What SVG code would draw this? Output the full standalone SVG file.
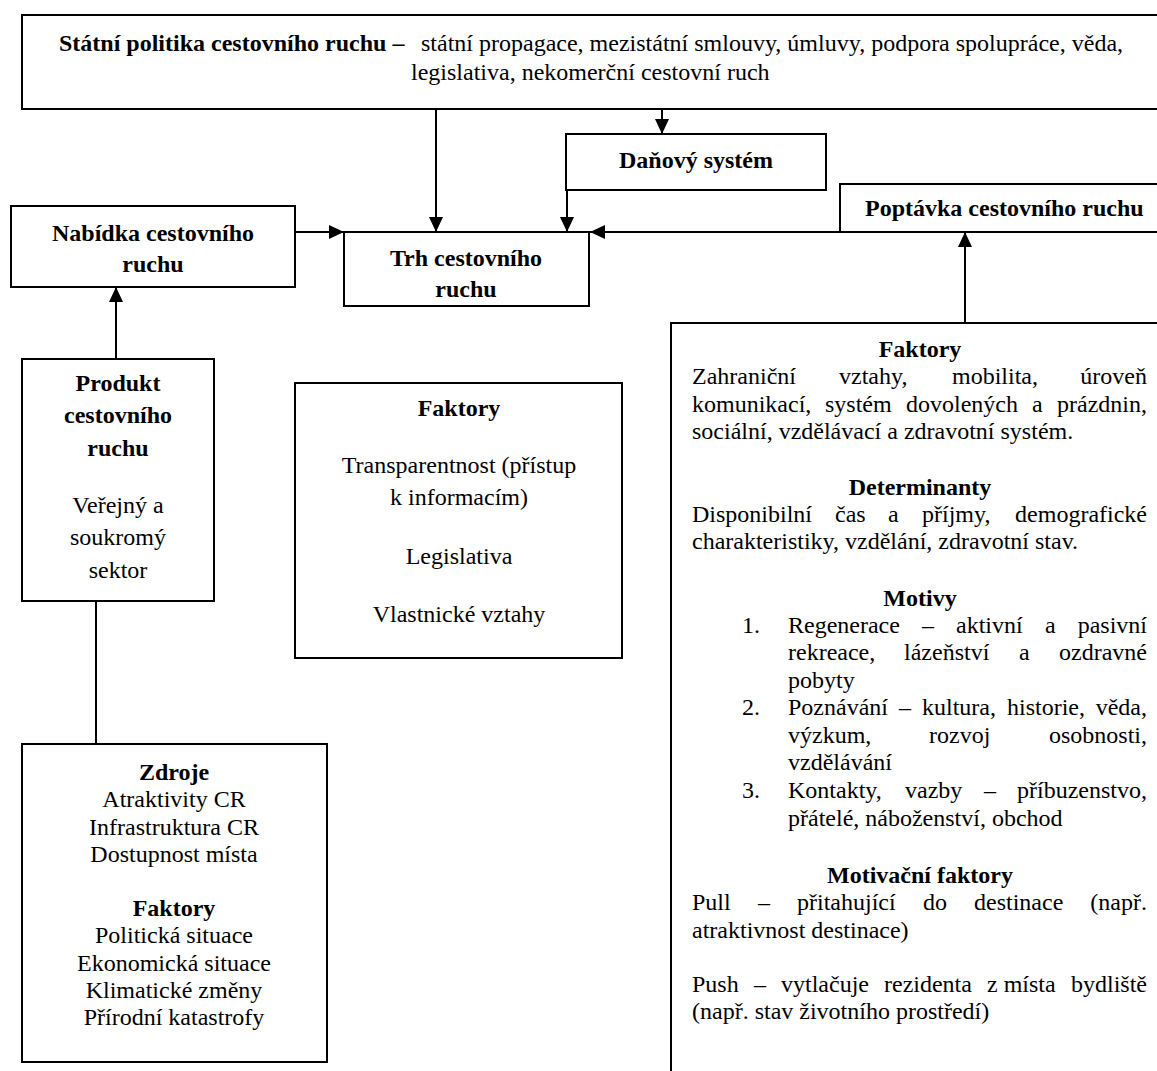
<svg xmlns="http://www.w3.org/2000/svg" width="1157" height="1071" viewBox="0 0 1157 1071">
<defs>
<marker id="ah" markerUnits="userSpaceOnUse" markerWidth="16" markerHeight="16" refX="15" refY="7" orient="auto">
<path d="M0,0 L15,7 L0,14 z" fill="#000"/>
</marker>
<style>
.box{fill:#fff;stroke:#000;stroke-width:2}
.t{font-family:"Liberation Serif","Times New Roman",serif;font-size:24px;fill:#000}
.b{font-weight:bold}
.c{text-anchor:middle}
.e{text-anchor:end}
.ln{stroke:#000;stroke-width:2;fill:none}
.ar{stroke:#000;stroke-width:2;fill:none;marker-end:url(#ah)}
</style>
</defs>
<rect width="1157" height="1071" fill="#fff"/>

<g id="statni-politika">
<rect class="box" x="22" y="15" width="1150" height="94"/>
<text class="t" x="59" y="51"><tspan class="b">Státní politika cestovního ruchu –</tspan><tspan x="421">státní propagace, mezistátní smlouvy, úmluvy, podpora spolupráce, věda,</tspan></text>
<text class="t" x="411" y="80">legislativa, nekomerční cestovní ruch</text>
</g>

<g id="danovy-system">
<rect class="box" x="566" y="134" width="260" height="56"/>
<text class="t b c" x="696" y="168">Daňový systém</text>
</g>

<g id="poptavka">
<rect class="box" x="840" y="184" width="330" height="48"/>
<text class="t b" x="865" y="216">Poptávka cestovního ruchu</text>
</g>

<g id="nabidka">
<rect class="box" x="11" y="206" width="284" height="81"/>
<text class="t b c" x="153" y="241">Nabídka cestovního</text>
<text class="t b c" x="153" y="272">ruchu</text>
</g>

<g id="trh">
<rect class="box" x="344" y="232" width="245" height="74"/>
<text class="t b c" x="466" y="266">Trh cestovního</text>
<text class="t b c" x="466" y="297">ruchu</text>
</g>

<g id="produkt">
<rect class="box" x="22" y="359" width="192" height="242"/>
<text class="t b c" x="118" y="391">Produkt</text>
<text class="t b c" x="118" y="423">cestovního</text>
<text class="t b c" x="118" y="456">ruchu</text>
<text class="t c" x="118" y="513">Veřejný a</text>
<text class="t c" x="118" y="545">soukromý</text>
<text class="t c" x="118" y="578">sektor</text>
</g>

<g id="faktory-stred">
<rect class="box" x="295" y="383" width="327" height="275"/>
<text class="t b c" x="459" y="416">Faktory</text>
<text class="t c" x="459" y="473">Transparentnost (přístup</text>
<text class="t c" x="459" y="505">k informacím)</text>
<text class="t c" x="459" y="564">Legislativa</text>
<text class="t c" x="459" y="622">Vlastnické vztahy</text>
</g>

<g id="zdroje">
<rect class="box" x="22" y="744" width="305" height="318"/>
<text class="t b c" x="174" y="780">Zdroje</text>
<text class="t c" x="174" y="807">Atraktivity CR</text>
<text class="t c" x="174" y="835">Infrastruktura CR</text>
<text class="t c" x="174" y="862">Dostupnost místa</text>
<text class="t b c" x="174" y="916">Faktory</text>
<text class="t c" x="174" y="943">Politická situace</text>
<text class="t c" x="174" y="971">Ekonomická situace</text>
<text class="t c" x="174" y="998">Klimatické změny</text>
<text class="t c" x="174" y="1025">Přírodní katastrofy</text>
</g>

<g id="poptavka-faktory">
<rect class="box" x="671" y="323" width="500" height="760"/>
<text class="t b c" x="920" y="357">Faktory</text>
<text class="t" y="384"><tspan x="692">Zahraniční</tspan><tspan x="839">vztahy,</tspan><tspan x="952">mobilita,</tspan></text>
<text class="t e" x="1147" y="384">úroveň</text>
<text class="t" y="412"><tspan x="692">komunikací,</tspan><tspan x="825">systém</tspan><tspan x="906">dovolených</tspan><tspan x="1032">a</tspan></text>
<text class="t e" x="1147" y="412">prázdnin,</text>
<text class="t" x="692" y="439">sociální, vzdělávací a zdravotní systém.</text>

<text class="t b c" x="920" y="495">Determinanty</text>
<text class="t" y="522"><tspan x="692">Disponibilní</tspan><tspan x="835">čas</tspan><tspan x="888">a</tspan><tspan x="922">příjmy,</tspan></text>
<text class="t e" x="1147" y="522">demografické</text>
<text class="t" x="692" y="549">charakteristiky, vzdělání, zdravotní stav.</text>

<text class="t b c" x="920" y="606">Motivy</text>
<text class="t" x="742" y="633">1.</text>
<text class="t" y="633"><tspan x="788">Regenerace</tspan><tspan x="922">–</tspan><tspan x="956">aktivní</tspan><tspan x="1045">a</tspan></text>
<text class="t e" x="1147" y="633">pasivní</text>
<text class="t" y="660"><tspan x="788">rekreace,</tspan><tspan x="904">lázeňství</tspan><tspan x="1019">a</tspan></text>
<text class="t e" x="1147" y="660">ozdravné</text>
<text class="t" x="788" y="688">pobyty</text>
<text class="t" x="742" y="715">2.</text>
<text class="t" y="715"><tspan x="788">Poznávání</tspan><tspan x="899">–</tspan><tspan x="922">kultura,</tspan><tspan x="1007">historie,</tspan></text>
<text class="t e" x="1147" y="715">věda,</text>
<text class="t" y="743"><tspan x="788">výzkum,</tspan><tspan x="929">rozvoj</tspan></text>
<text class="t e" x="1147" y="743">osobnosti,</text>
<text class="t" x="788" y="770">vzdělávání</text>
<text class="t" x="742" y="798">3.</text>
<text class="t" y="798"><tspan x="788">Kontakty,</tspan><tspan x="905">vazby</tspan><tspan x="984">–</tspan></text>
<text class="t e" x="1147" y="798">příbuzenstvo,</text>
<text class="t" x="788" y="826">přátelé, náboženství, obchod</text>

<text class="t b c" x="920" y="883">Motivační faktory</text>
<text class="t" y="910"><tspan x="692">Pull</tspan><tspan x="758">–</tspan><tspan x="797">přitahující</tspan><tspan x="923">do</tspan><tspan x="974">destinace</tspan></text>
<text class="t e" x="1147" y="910">(např.</text>
<text class="t" x="692" y="938">atraktivnost destinace)</text>
<text class="t" y="992"><tspan x="692">Push</tspan><tspan x="754">–</tspan><tspan x="781">vytlačuje</tspan><tspan x="884">rezidenta</tspan><tspan x="987">z místa</tspan></text>
<text class="t e" x="1147" y="992">bydliště</text>
<text class="t" x="692" y="1019">(např. stav životního prostředí)</text>
</g>

<g id="connectors">
<line class="ar" x1="436" y1="109" x2="436" y2="232"/>
<line class="ar" x1="662" y1="109" x2="662" y2="134"/>
<line class="ar" x1="567" y1="190" x2="567" y2="232"/>
<line class="ar" x1="840" y1="232" x2="590" y2="232"/>
<line class="ar" x1="295" y1="232" x2="344" y2="232"/>
<line class="ar" x1="116" y1="359" x2="116" y2="287"/>
<line class="ar" x1="965" y1="323" x2="965" y2="232"/>
<line class="ln" x1="96" y1="601" x2="96" y2="744"/>
</g>
</svg>
